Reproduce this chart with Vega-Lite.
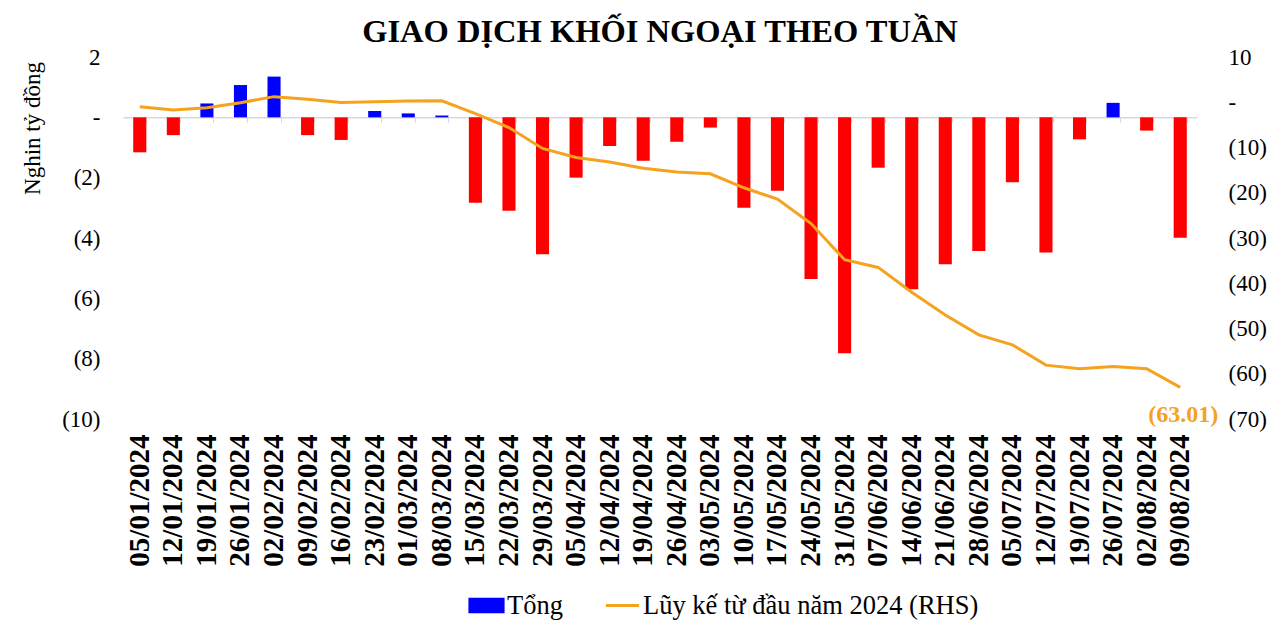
{
  "$schema": "https://vega.github.io/schema/vega-lite/v6.json",
  "autosize": {"type": "none"},
  "padding": {"left": 123, "top": 57, "right": 83, "bottom": 204},
  "width": 1074,
  "height": 362,
  "background": "white",
  "title": {"text": "GIAO DỊCH KHỐI NGOẠI THEO TUẦN", "font": "Liberation Serif", "fontSize": 32.5, "fontWeight": "bold", "color": "black", "anchor": "middle", "frame": "group", "baseline": "alphabetic", "offset": -28},
  "data": {"values": [
    {"tuan": "05/01/2024", "tong": -1.16, "luyke": -0.97},
    {"tuan": "12/01/2024", "tong": -0.59, "luyke": -1.7},
    {"tuan": "19/01/2024", "tong": 0.46, "luyke": -1.19},
    {"tuan": "26/01/2024", "tong": 1.07, "luyke": -0.1},
    {"tuan": "02/02/2024", "tong": 1.35, "luyke": 1.24},
    {"tuan": "09/02/2024", "tong": -0.59, "luyke": 0.66},
    {"tuan": "16/02/2024", "tong": -0.75, "luyke": -0.08},
    {"tuan": "23/02/2024", "tong": 0.21, "luyke": 0.13},
    {"tuan": "01/03/2024", "tong": 0.13, "luyke": 0.26},
    {"tuan": "08/03/2024", "tong": 0.06, "luyke": 0.32},
    {"tuan": "15/03/2024", "tong": -2.83, "luyke": -2.5},
    {"tuan": "22/03/2024", "tong": -3.1, "luyke": -5.6},
    {"tuan": "29/03/2024", "tong": -4.54, "luyke": -10.2},
    {"tuan": "05/04/2024", "tong": -2.0, "luyke": -12.2},
    {"tuan": "12/04/2024", "tong": -0.95, "luyke": -13.2},
    {"tuan": "19/04/2024", "tong": -1.44, "luyke": -14.6},
    {"tuan": "26/04/2024", "tong": -0.81, "luyke": -15.4},
    {"tuan": "03/05/2024", "tong": -0.34, "luyke": -15.8},
    {"tuan": "10/05/2024", "tong": -3.0, "luyke": -18.9},
    {"tuan": "17/05/2024", "tong": -2.43, "luyke": -21.4},
    {"tuan": "24/05/2024", "tong": -5.36, "luyke": -26.8},
    {"tuan": "31/05/2024", "tong": -7.82, "luyke": -34.8},
    {"tuan": "07/06/2024", "tong": -1.67, "luyke": -36.5},
    {"tuan": "14/06/2024", "tong": -5.7, "luyke": -42.0},
    {"tuan": "21/06/2024", "tong": -4.87, "luyke": -47.0},
    {"tuan": "28/06/2024", "tong": -4.43, "luyke": -51.4},
    {"tuan": "05/07/2024", "tong": -2.15, "luyke": -53.6},
    {"tuan": "12/07/2024", "tong": -4.48, "luyke": -58.1},
    {"tuan": "19/07/2024", "tong": -0.73, "luyke": -58.9},
    {"tuan": "26/07/2024", "tong": 0.48, "luyke": -58.4},
    {"tuan": "02/08/2024", "tong": -0.44, "luyke": -58.9},
    {"tuan": "09/08/2024", "tong": -3.99, "luyke": -63.01, "nhan": "(63.01)"}
  ]},
  "layer": [
    {
      "mark": {"type": "bar"},
      "encoding": {
        "x": {"field": "tuan", "type": "ordinal", "sort": null,
              "scale": {"paddingInner": 0.61, "paddingOuter": 0.305},
              "axis": {"orient": "bottom", "title": null, "labelAngle": -90, "labelFont": "Liberation Serif", "labelFontWeight": "bold", "labelFontSize": 29, "labelColor": "black", "domain": false, "ticks": false, "labelPadding": 15, "labelOverlap": false, "grid": false}},
        "y": {"field": "tong", "type": "quantitative",
              "scale": {"domain": [-10, 2], "nice": false},
              "axis": {"orient": "left", "values": [-10, -8, -6, -4, -2, 0, 2], "labelExpr": "datum.value == 0 ? '-\u2008' : (datum.value < 0 ? '(' + format(-datum.value, 'd') + ')' : format(datum.value, 'd') + '\u2008')", "labelFont": "Liberation Serif", "labelFontSize": 23, "labelColor": "black", "labelAlign": "right", "labelPadding": 23, "domain": false, "ticks": false, "grid": false,
                       "title": "Nghin tỷ đồng", "titleFont": "Liberation Serif", "titleFontSize": 23, "titleFontWeight": "normal", "titleColor": "black", "titleAngle": -90, "titleX": -91, "titleY": 71, "titleAlign": "center", "titleBaseline": "middle"}},
        "color": {"datum": "Tổng", "type": "nominal",
                  "condition": {"test": "datum.tong < 0", "value": "#FF0000"},
                  "scale": {"domain": ["Tổng", "Lũy kế từ đầu năm 2024 (RHS)"], "range": ["#0000FF", "#F5A21E"]},
                  "legend": {"orient": "none", "legendX": 345, "legendY": 530, "direction": "horizontal", "title": null,
                             "labelFont": "Liberation Serif", "labelFontSize": 26.5, "labelColor": "black", "labelLimit": 600,
                             "symbolSize": 1100, "columnPadding": 36, "labelOffset": 2,
                             "encode": {"symbols": {"update": {
                               "shape": {"signal": "datum.value == 'Tổng' ? 'M-1,-0.38H1V0.38H-1Z' : 'stroke'"},
                               "fill": {"signal": "datum.value == 'Tổng' ? '#0000FF' : 'transparent'"},
                               "stroke": {"signal": "datum.value == 'Tổng' ? 'transparent' : '#F5A21E'"},
                               "strokeWidth": {"value": 3},
                               "opacity": {"value": 1}}}}}}
      }
    },
    {
      "mark": {"type": "line", "strokeWidth": 3},
      "encoding": {
        "x": {"field": "tuan", "type": "ordinal", "sort": null,
              "axis": {"orient": "bottom", "title": null, "labels": false, "offset": -301.67, "domain": true, "domainColor": "#D9D9D9", "domainWidth": 1.5, "ticks": true, "tickColor": "#D9D9D9", "tickSize": 5, "tickBand": "extent", "grid": false}},
        "y": {"field": "luyke", "type": "quantitative",
              "scale": {"domain": [-70, 10], "nice": false},
              "axis": {"orient": "right", "values": [-70, -60, -50, -40, -30, -20, -10, 0, 10], "labelExpr": "datum.value == 0 ? '-' : (datum.value < 0 ? '(' + format(-datum.value, 'd') + ')' : format(datum.value, 'd'))", "labelFont": "Liberation Serif", "labelFontSize": 23, "labelColor": "black", "labelAlign": "left", "labelPadding": 31, "domain": false, "ticks": false, "grid": false, "title": null}},
        "color": {"datum": "Lũy kế từ đầu năm 2024 (RHS)", "type": "nominal"}
      }
    },
    {
      "transform": [{"filter": "datum.nhan != null"}],
      "mark": {"type": "text", "font": "Liberation Serif", "fontSize": 24, "fontWeight": "bold", "color": "#F5A21E", "align": "right", "baseline": "middle", "dx": 38, "dy": 28},
      "encoding": {
        "x": {"field": "tuan", "type": "ordinal", "sort": null, "axis": null},
        "y": {"field": "luyke", "type": "quantitative", "scale": {"domain": [-70, 10], "nice": false}, "axis": null},
        "text": {"field": "nhan"}
      }
    }
  ],
  "resolve": {"scale": {"y": "independent"}, "axis": {"x": "independent", "y": "independent"}},
  "config": {"view": {"stroke": null}, "font": "Liberation Serif"}
}
